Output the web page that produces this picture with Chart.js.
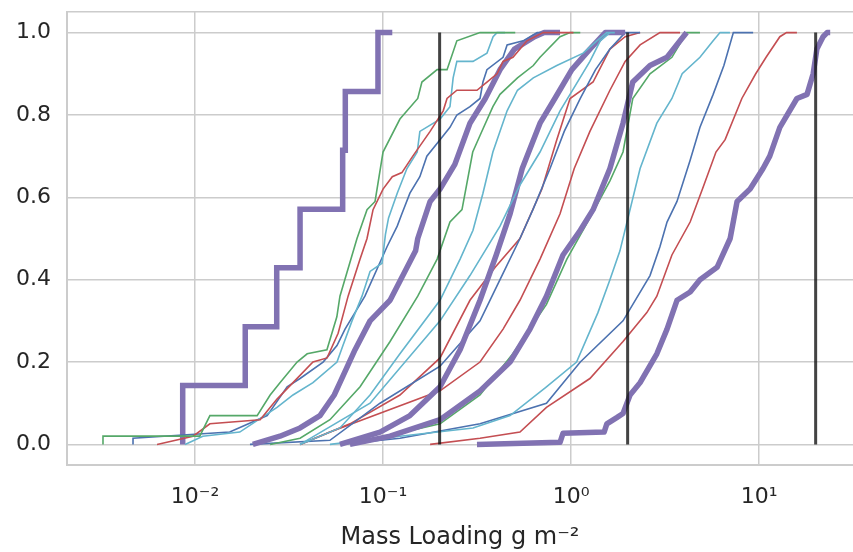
<!DOCTYPE html>
<html>
<head>
<meta charset="utf-8">
<script src="https://cdn.jsdelivr.net/npm/chart.js@4.4.1/dist/chart.umd.min.js"></script>
<style>
  html, body { margin: 0; padding: 0; background: #fff; }
</style>
</head>
<body>
<canvas id="cdfChart" width="853" height="552"></canvas>
<script>
// axis ticks
const xTicks = [0.01, 0.1, 1, 10];
const xTickLabels = ["10\u207B\u00B2", "10\u207B\u00B9", "10\u2070", "10\u00B9"];
const yTicks = [0, 0.2, 0.4, 0.6, 0.8, 1.0];
const refLines = [0.2, 2, 20];

// cumulative curves: mass loading values and cumulative fraction
const p1X = [0.0086, 0.0185, 0.0272, 0.0362, 0.061, 0.063, 0.094, 0.112];
const p1Y = [0, 0.143, 0.286, 0.429, 0.571, 0.714, 0.857, 1];

const a1X = [0.00324, 0.00324, 0.0106, 0.0120, 0.0214, 0.0251, 0.0283, 0.0349, 0.0395, 0.0503, 0.0568, 0.0590, 0.0727, 0.0822, 0.0907, 0.100, 0.123, 0.153, 0.161, 0.194, 0.219, 0.247, 0.328, 0.505];
const a1Y = [0, 0.02, 0.02, 0.07, 0.07, 0.12, 0.15, 0.20, 0.22, 0.23, 0.31, 0.36, 0.50, 0.57, 0.59, 0.71, 0.79, 0.84, 0.88, 0.91, 0.91, 0.98, 1, 1];

const a2X = [0.00628, 0.00976, 0.0120, 0.0222, 0.0273, 0.0332, 0.0424, 0.0504, 0.0577, 0.0652, 0.0755, 0.0822, 0.0885, 0.100, 0.112, 0.126, 0.144, 0.178, 0.209, 0.219, 0.247, 0.316, 0.357, 0.404, 0.435, 0.491, 0.583, 0.710, 1.03];
const a2Y = [0, 0.02, 0.05, 0.06, 0.11, 0.15, 0.20, 0.21, 0.27, 0.36, 0.45, 0.50, 0.57, 0.62, 0.65, 0.66, 0.70, 0.76, 0.81, 0.84, 0.86, 0.86, 0.88, 0.90, 0.93, 0.94, 0.98, 1, 1];

const a3X = [0.00885, 0.0110, 0.0173, 0.0273, 0.0332, 0.0424, 0.0569, 0.0612, 0.0684, 0.0773, 0.0853, 0.0988, 0.103, 0.107, 0.119, 0.134, 0.152, 0.157, 0.201, 0.227, 0.236, 0.247, 0.301, 0.357, 0.385, 0.404, 0.446];
const a3Y = [0, 0.02, 0.03, 0.09, 0.12, 0.15, 0.20, 0.24, 0.30, 0.36, 0.42, 0.44, 0.51, 0.55, 0.61, 0.67, 0.71, 0.76, 0.79, 0.82, 0.89, 0.93, 0.93, 0.95, 0.99, 1, 1];

const a4X = [0.00468, 0.00468, 0.0153, 0.0242, 0.0309, 0.0362, 0.048, 0.0569, 0.0628, 0.0801, 0.105, 0.119, 0.126, 0.139, 0.157, 0.171, 0.201, 0.227, 0.247, 0.290, 0.328, 0.340, 0.357, 0.435, 0.457, 0.556, 0.660, 0.822];
const a4Y = [0, 0.015, 0.03, 0.07, 0.14, 0.16, 0.20, 0.24, 0.28, 0.36, 0.48, 0.53, 0.56, 0.61, 0.65, 0.70, 0.74, 0.77, 0.80, 0.82, 0.84, 0.88, 0.91, 0.94, 0.97, 0.98, 1, 1];

const p2X = [0.0203, 0.0283, 0.0362, 0.0462, 0.055, 0.059, 0.071, 0.0853, 0.109, 0.149, 0.153, 0.178, 0.201, 0.241, 0.29, 0.35, 0.419, 0.50, 0.64, 0.72, 0.874];
const p2Y = [0, 0.02, 0.04, 0.07, 0.12, 0.15, 0.23, 0.30, 0.35, 0.47, 0.50, 0.59, 0.62, 0.68, 0.78, 0.84, 0.91, 0.96, 0.99, 1, 1];

const a6X = [0.0251, 0.0362, 0.0522, 0.0755, 0.109, 0.153, 0.194, 0.227, 0.263, 0.30, 0.328, 0.384, 0.419, 0.519, 0.63, 0.684, 0.874, 0.988, 1.12];
const a6Y = [0, 0.015, 0.06, 0.14, 0.25, 0.36, 0.45, 0.54, 0.57, 0.71, 0.75, 0.82, 0.85, 0.89, 0.92, 0.94, 0.99, 1, 1];

const a7X = [0.0362, 0.059, 0.0853, 0.123, 0.201, 0.257, 0.301, 0.34, 0.384, 0.457, 0.519, 0.63, 0.84, 1.16, 1.37, 1.55, 1.71];
const a7Y = [0, 0.04, 0.12, 0.22, 0.35, 0.45, 0.52, 0.61, 0.71, 0.81, 0.86, 0.89, 0.92, 0.95, 0.98, 1, 1];

const b1X = [0.0362, 0.0853, 0.201, 0.29, 0.419, 0.535, 0.684, 0.874, 1.05, 1.26, 1.43, 1.61];
const b1Y = [0, 0.10, 0.30, 0.41, 0.53, 0.63, 0.71, 0.81, 0.87, 0.93, 0.98, 1];

const p3X = [0.059, 0.0964, 0.139, 0.201, 0.257, 0.328, 0.40, 0.474, 0.55, 0.684, 0.82, 1.01, 1.26, 1.52, 1.94];
const p3Y = [0, 0.03, 0.07, 0.14, 0.23, 0.35, 0.46, 0.56, 0.67, 0.78, 0.84, 0.91, 0.96, 1, 1];

const b2X = [0.0196, 0.0522, 0.0964, 0.201, 0.328, 0.419, 0.535, 0.627, 0.773, 0.92, 1.12, 1.35, 1.61, 1.94, 2.33];
const b2Y = [0, 0.01, 0.10, 0.19, 0.30, 0.40, 0.50, 0.57, 0.67, 0.76, 0.84, 0.91, 0.96, 1, 1];

const b3X = [0.0362, 0.0667, 0.123, 0.201, 0.29, 0.395, 0.535, 0.70, 0.84, 0.988, 1.31, 1.61, 1.94, 2.33];
const b3Y = [0, 0.05, 0.12, 0.21, 0.35, 0.43, 0.50, 0.62, 0.74, 0.84, 0.88, 0.96, 0.99, 1];

const b4X = [0.0362, 0.0522, 0.201, 0.328, 0.435, 0.535, 0.684, 0.874, 1.04, 1.26, 1.61, 1.94, 2.33, 2.97, 3.80];
const b4Y = [0, 0.03, 0.13, 0.20, 0.28, 0.35, 0.45, 0.56, 0.67, 0.76, 0.86, 0.93, 0.97, 1, 1];

const p4X = [0.0667, 0.109, 0.201, 0.328, 0.474, 0.605, 0.74, 0.906, 1.12, 1.31, 1.61, 1.89, 2.13, 2.63, 3.24, 3.80, 4.12];
const p4Y = [0, 0.02, 0.06, 0.13, 0.20, 0.28, 0.36, 0.46, 0.52, 0.57, 0.67, 0.78, 0.88, 0.92, 0.94, 0.98, 1];

const c1X = [0.0667, 0.201, 0.328, 0.49, 0.74, 0.95, 1.26, 1.61, 1.89, 2.13, 2.63, 3.44, 4.12, 4.85];
const c1Y = [0, 0.05, 0.12, 0.22, 0.34, 0.45, 0.55, 0.64, 0.71, 0.84, 0.90, 0.94, 1, 1];

const c2X = [0.0522, 0.123, 0.301, 0.474, 0.74, 1.07, 1.39, 1.61, 1.82, 2.33, 2.86, 3.44, 3.9, 4.85, 5.7, 6.2, 7.0];
const c2Y = [0, 0.02, 0.04, 0.07, 0.14, 0.20, 0.32, 0.40, 0.47, 0.67, 0.78, 0.84, 0.90, 0.94, 0.98, 1, 1];

const c3X = [0.059, 0.123, 0.328, 0.74, 1.12, 1.89, 2.63, 2.97, 3.24, 3.66, 4.30, 4.85, 5.7, 6.5, 7.3, 9.3];
const c3Y = [0, 0.015, 0.05, 0.10, 0.20, 0.30, 0.41, 0.48, 0.54, 0.59, 0.69, 0.77, 0.85, 0.92, 1, 1];

const c4X = [0.178, 0.328, 0.535, 0.74, 1.26, 1.89, 2.53, 2.86, 3.44, 4.30, 5.0, 5.9, 6.6, 8.1, 9.6, 10.9, 12.9, 14.0, 15.9];
const c4Y = [0, 0.015, 0.03, 0.09, 0.16, 0.25, 0.32, 0.36, 0.46, 0.54, 0.62, 0.71, 0.74, 0.84, 0.90, 0.94, 0.99, 1, 1];

const p5X = [0.316, 0.874, 0.906, 1.50, 1.55, 1.75, 1.89, 2.06, 2.33, 2.86, 3.24, 3.66, 4.30, 4.85, 5.98, 7.02, 7.64, 8.96, 10.5, 11.4, 12.9, 15.9, 18.0, 19.4, 20.3, 21.9, 23.0, 23.9];
const p5Y = [0, 0.005, 0.027, 0.03, 0.05, 0.065, 0.075, 0.12, 0.15, 0.22, 0.28, 0.35, 0.37, 0.40, 0.43, 0.50, 0.59, 0.62, 0.67, 0.70, 0.77, 0.84, 0.85, 0.90, 0.96, 0.99, 1, 1];

const BLUE = "#4C72B0", GREEN = "#55A868", RED = "#C44E52", PURPLE = "#8172B2", CYAN = "#64B5CD";
const INK = "#262626", GRID = "#cccccc";
const THIN = 1.6, THICK = 5.5;

const curves = [
  [a1X, a1Y, GREEN, THIN], [a2X, a2Y, RED, THIN], [a3X, a3Y, CYAN, THIN], [a4X, a4Y, BLUE, THIN],
  [p2X, p2Y, PURPLE, THICK],
  [a6X, a6Y, GREEN, THIN], [a7X, a7Y, CYAN, THIN], [b1X, b1Y, CYAN, THIN],
  [p3X, p3Y, PURPLE, THICK],
  [b2X, b2Y, BLUE, THIN], [b3X, b3Y, RED, THIN], [b4X, b4Y, RED, THIN],
  [p4X, p4Y, PURPLE, THICK],
  [c1X, c1Y, GREEN, THIN], [c2X, c2Y, CYAN, THIN], [c3X, c3Y, BLUE, THIN], [c4X, c4Y, RED, THIN],
  [p5X, p5Y, PURPLE, THICK]
];

const toPts = (xs, ys) => xs.map((v, i) => ({ x: v, y: ys[i] }));

const datasets = curves.map(([xs, ys, c, w]) => ({
  data: toPts(xs, ys),
  borderColor: c,
  borderWidth: w,
  pointRadius: 0,
  tension: 0,
  borderJoinStyle: w > 2 ? "round" : "miter",
  order: 2
}));

datasets.push({
  data: toPts(p1X, p1Y),
  borderColor: PURPLE,
  borderWidth: THICK,
  pointRadius: 0,
  stepped: "after",
  order: 2
});

refLines.forEach(v => {
  datasets.push({
    data: [{ x: v, y: 0 }, { x: v, y: 1 }],
    borderColor: "rgba(20,20,20,0.8)",
    borderWidth: 3,
    pointRadius: 0,
    order: 0
  });
});

new Chart(document.getElementById("cdfChart"), {
  type: "line",
  data: { datasets },
  options: {
    responsive: false,
    animation: false,
    devicePixelRatio: 1,
    layout: { padding: { top: 12, right: 0, left: 0, bottom: 0 } },
    plugins: { legend: { display: false }, tooltip: { enabled: false } },
    scales: {
      x: {
        type: "logarithmic",
        min: 0.002085,
        max: 31.6,
        afterBuildTicks: s => { s.ticks = xTicks.map(v => ({ value: v })); },
        afterFit: s => { s.height = 87; s.paddingLeft = 0; s.paddingRight = 0; },
        ticks: {
          autoSkip: false,
          maxRotation: 0,
          padding: 19,
          color: INK,
          font: { family: "DejaVu Sans", size: 22 },
          callback: v => xTickLabels[xTicks.indexOf(v)]
        },
        grid: { color: GRID, lineWidth: 1.5, drawTicks: false },
        border: { color: GRID, width: 2 },
        title: {
          display: true,
          text: "Mass Loading g m\u207B\u00B2",
          color: INK,
          font: { family: "DejaVu Sans", size: 24 },
          padding: { top: 0, bottom: 0 }
        }
      },
      y: {
        type: "linear",
        min: -0.05,
        max: 1.05,
        afterBuildTicks: s => { s.ticks = [-0.05, ...yTicks, 1.05].map(v => ({ value: v })); },
        afterFit: s => { s.width = 67; s.paddingTop = 0; s.paddingBottom = 0; },
        ticks: {
          autoSkip: false,
          padding: 16,
          color: INK,
          font: { family: "DejaVu Sans", size: 22 },
          callback: v => (yTicks.includes(v) ? v.toFixed(1) : "")
        },
        grid: { color: GRID, lineWidth: 1.5, drawTicks: false },
        border: { color: GRID, width: 2 }
      }
    }
  }
});
</script>
</body>
</html>
